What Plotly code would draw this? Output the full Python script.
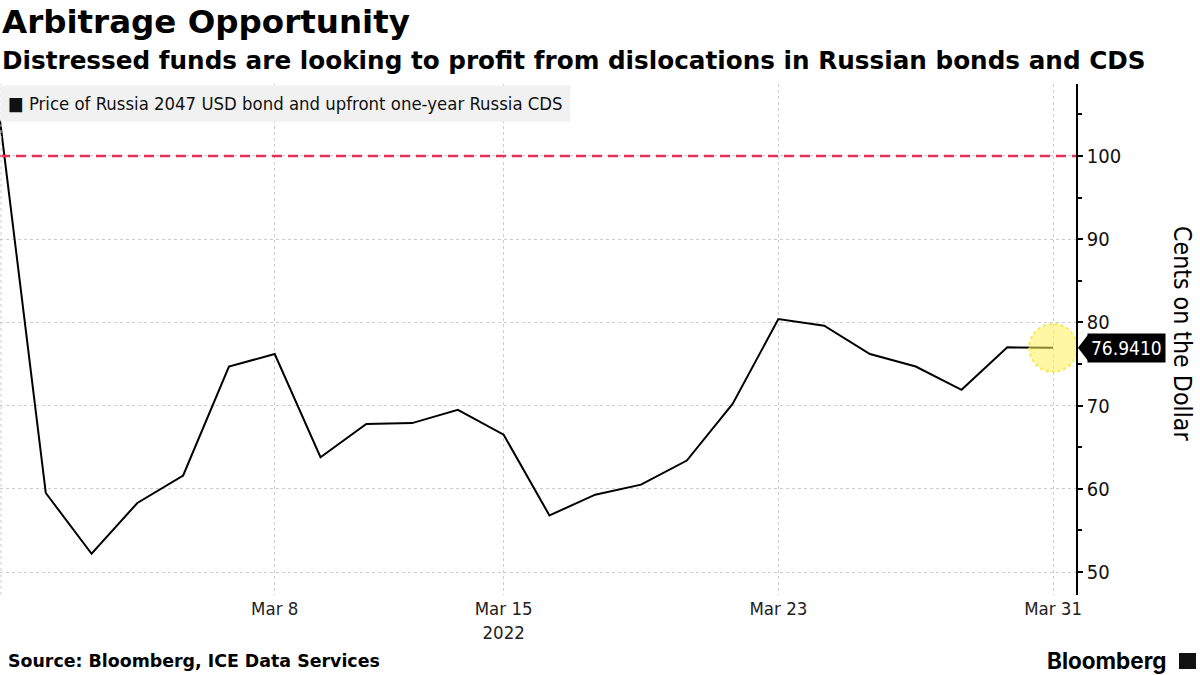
import plotly.graph_objects as go

# ---- data ----
dates = ["2022-02-28", "2022-03-01", "2022-03-02", "2022-03-03", "2022-03-04",
         "2022-03-07", "2022-03-08", "2022-03-09", "2022-03-10", "2022-03-11",
         "2022-03-14", "2022-03-15", "2022-03-16", "2022-03-17", "2022-03-18",
         "2022-03-21", "2022-03-22", "2022-03-23", "2022-03-24", "2022-03-25",
         "2022-03-28", "2022-03-29", "2022-03-30", "2022-03-31"]
price = [104.3, 59.5, 52.2, 58.3, 61.6, 74.7, 76.2, 63.8, 67.8, 67.9,
         69.5, 66.5, 56.8, 59.3, 60.5, 63.4, 70.2, 80.4, 79.6, 76.2,
         74.7, 71.9, 77.0, 76.941]
series_name = "Price of Russia 2047 USD bond and upfront one-year Russia CDS"
par_level = 100
x_tick_vals = ["2022-03-08", "2022-03-15", "2022-03-23", "2022-03-31"]
x_tick_text = ["Mar 8", "Mar 15<br>2022", "Mar 23", "Mar 31"]
y_tick_vals = [50, 60, 70, 80, 90, 100]

FONT = "DejaVu Sans Condensed, DejaVu Sans, sans-serif"
BOLD = "DejaVu Sans, sans-serif"

W, H = 1200, 675
ML, MR, MT, MB = 0, 124, 84, 80
PW, PH = W - ML - MR, H - MT - MB
Y_RANGE = [47.24, 108.65]


def px_x(px):
    """pixel x -> paper x"""
    return (px - ML) / PW


def px_y(py):
    """pixel y -> paper y"""
    return (H - MB - py) / PH


fig = go.Figure()
fig.add_trace(go.Scatter(
    x=dates, y=price, mode="lines", name=series_name,
    line=dict(color="#000000", width=2), showlegend=False,
    hoverinfo="skip"))

# reference line at par
fig.add_shape(type="line", xref="paper", x0=0, x1=1, yref="y",
              y0=par_level, y1=par_level,
              line=dict(color="#e8305c", width=2.5, dash="10px,6px"), layer="above")

# highlight circle at last point
fig.add_shape(type="circle", xref="x", yref="y", xsizemode="pixel", ysizemode="pixel",
              xanchor=dates[-1], yanchor=price[-1], x0=-24, x1=24, y0=-24, y1=24,
              fillcolor="rgba(255,240,90,0.55)",
              line=dict(color="rgba(250,230,60,0.9)", width=2, dash="dot"), layer="above")

# last value tag
last = price[-1]
fig.add_annotation(xref="paper", x=1, yref="y", y=last, text="%.4f" % last,
                   showarrow=False, xanchor="left", xshift=11,
                   font=dict(family=FONT, size=19, color="#ffffff"),
                   bgcolor="#000000", borderpad=3)
tri_h = 13 / (PH / (Y_RANGE[1] - Y_RANGE[0]))
fig.add_shape(type="path", xref="paper", yref="y",
              path="M %f %f L %f %f L %f %f Z" % (px_x(1078), last, px_x(1088), last + tri_h,
                                                  px_x(1088), last - tri_h),
              fillcolor="#000000", line=dict(width=0))

# legend box
fig.add_annotation(xref="paper", yref="paper", x=0, y=px_y(85), xanchor="left", yanchor="top",
                   text="■ " + series_name, showarrow=False, align="left",
                   font=dict(family=FONT, size=18.4, color="#111111"),
                   bgcolor="#f1f1f1", borderpad=7)

# titles
fig.add_annotation(xref="paper", yref="paper", x=0, y=px_y(22), xanchor="left", yanchor="middle",
                   text="<b>Arbitrage Opportunity</b>", showarrow=False,
                   font=dict(family=BOLD, size=32.5, color="#000000"))
fig.add_annotation(xref="paper", yref="paper", x=0, y=px_y(60), xanchor="left", yanchor="middle",
                   text="<b>Distressed funds are looking to profit from dislocations in Russian bonds and CDS</b>",
                   showarrow=False, font=dict(family=BOLD, size=24.7, color="#000000"))

# y-axis title (reads top to bottom)
fig.add_annotation(xref="paper", yref="paper", x=px_x(1183), y=px_y(333),
                   xanchor="center", yanchor="middle",
                   text="Cents on the Dollar", textangle=90, showarrow=False,
                   font=dict(family=FONT, size=24.7, color="#000000"))

# source and branding
fig.add_annotation(xref="paper", yref="paper", x=px_x(6), y=px_y(661), xanchor="left", yanchor="middle",
                   text="<b>Source: Bloomberg, ICE Data Services</b>", showarrow=False,
                   font=dict(family=BOLD, size=17.4, color="#000000"))
fig.add_annotation(xref="paper", yref="paper", x=px_x(1169), y=px_y(661), xanchor="right",
                   yanchor="middle", text="<b>Bloomberg</b>", showarrow=False,
                   font=dict(family="Inter, DejaVu Sans, sans-serif", size=22.5, color="#000000"))
fig.add_shape(type="rect", xref="paper", yref="paper",
              x0=px_x(1179), x1=px_x(1196), y0=px_y(669), y1=px_y(653),
              fillcolor="#111111", line=dict(width=0))

fig.update_layout(
    width=W, height=H,
    margin=dict(l=ML, r=MR, t=MT, b=MB, autoexpand=False),
    paper_bgcolor="#ffffff", plot_bgcolor="#ffffff",
    showlegend=False,
    xaxis=dict(
        type="date",
        range=["2022-02-28", "2022-03-31 12:00"],
        rangebreaks=[dict(bounds=["sat", "mon"])],
        tickvals=x_tick_vals, ticktext=x_tick_text,
        showgrid=True, gridcolor="#cccccc", griddash="dot", gridwidth=1,
        showline=False, zeroline=False, ticks="",
        tickfont=dict(family=FONT, size=18.5, color="#222222"),
        fixedrange=True,
    ),
    yaxis=dict(
        side="right", range=Y_RANGE,
        tickvals=y_tick_vals,
        showgrid=True, gridcolor="#cccccc", griddash="dot", gridwidth=1,
        showline=True, linecolor="#000000", linewidth=1.5,
        ticks="outside", ticklen=5, tickcolor="#000000", tickwidth=1.5,
        minor=dict(dtick=5, tick0=0, ticks="outside", ticklen=4, tickcolor="#000000", showgrid=False),
        zeroline=False,
        tickfont=dict(family=FONT, size=20, color="#111111"),
        fixedrange=True,
    ),
)

# dotted left border of the plot area
fig.add_shape(type="line", xref="paper", yref="paper", x0=0.001, x1=0.001, y0=0, y1=1,
              line=dict(color="#cccccc", width=1, dash="dot"))

fig.write_html("out.html", config={"displayModeBar": False},
               post_script="document.body.style.margin='0';document.body.style.overflow='hidden';")
